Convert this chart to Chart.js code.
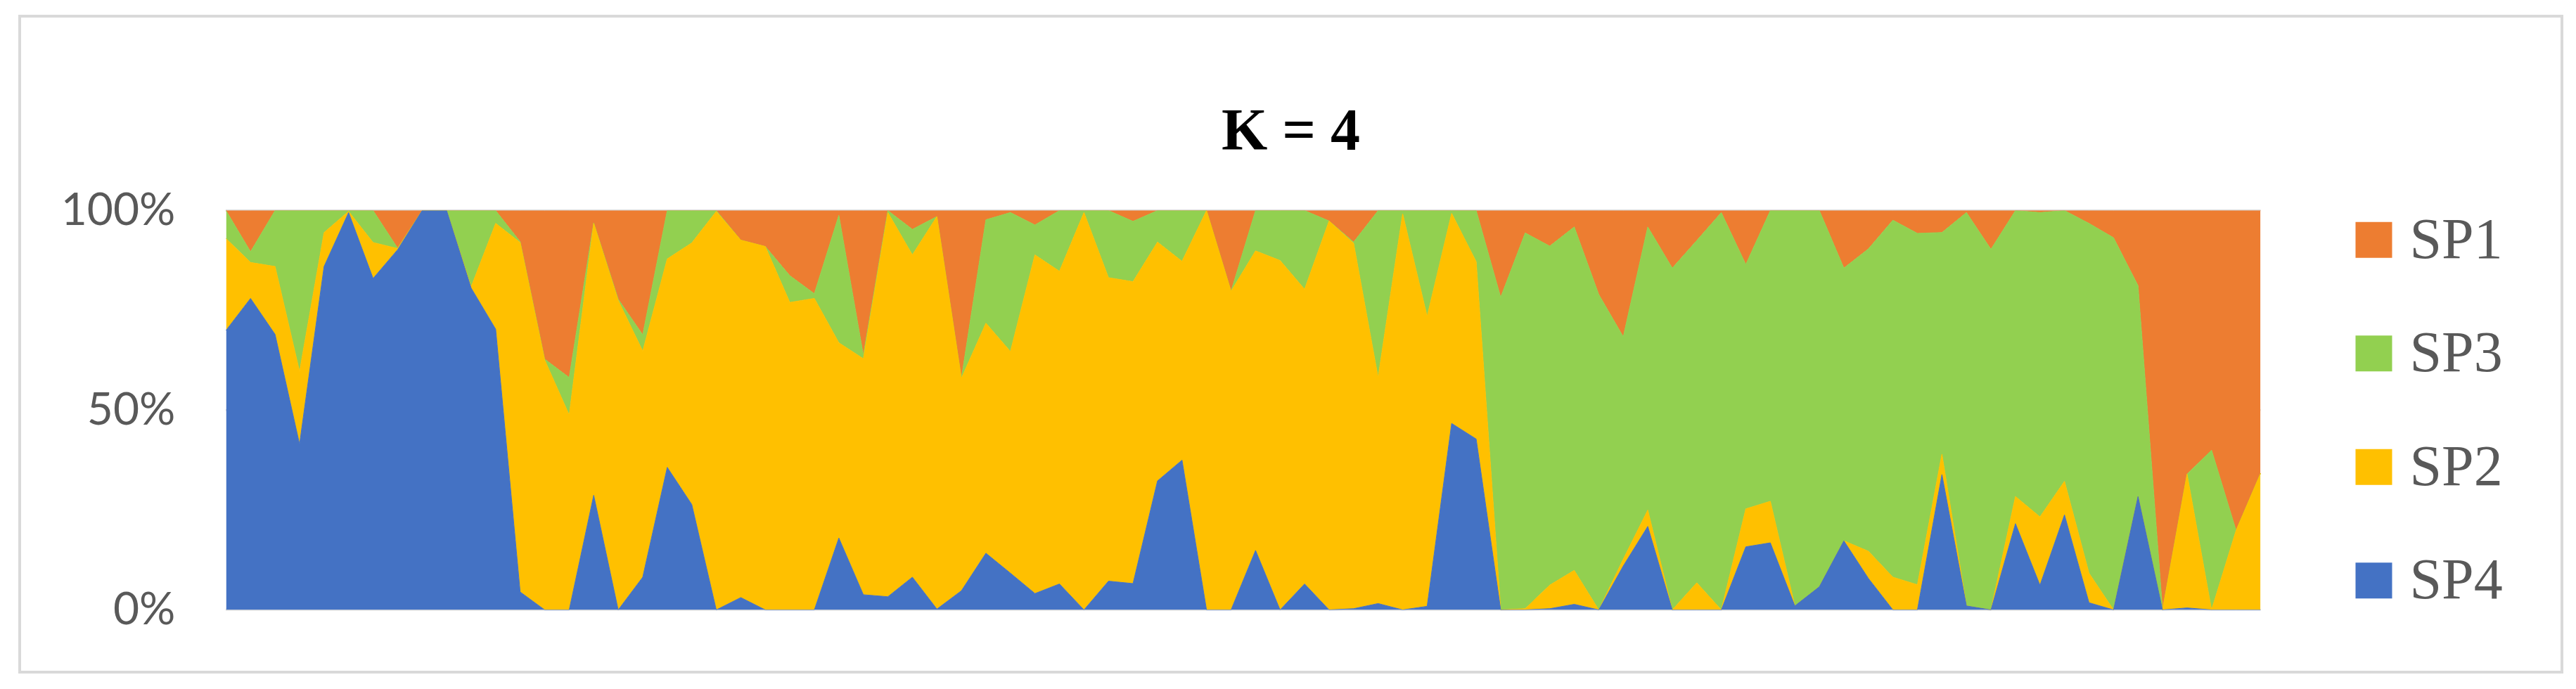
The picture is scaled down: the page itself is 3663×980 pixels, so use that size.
<!DOCTYPE html>
<html>
<head>
<meta charset="utf-8">
<title>K = 4</title>
<script src="https://cdn.jsdelivr.net/npm/chart.js@4.4.1/dist/chart.umd.min.js"></script>
<style>
    html, body { margin: 0; padding: 0; background: #ffffff; }
    #chart-wrap { width: 3663px; height: 980px; }
</style>
</head>
<body>
<div id="chart-wrap"><canvas id="structure-chart" width="3663" height="980"></canvas></div>
<script>
// Individuals along the x axis (their labels are not shown in the original)
const SAMPLES = [
    1, 2, 3, 4, 5, 6, 7, 8, 9, 10, 11, 12, 13, 14, 15, 16, 17, 18, 19, 20, 21,
    22, 23, 24, 25, 26, 27, 28, 29, 30, 31, 32, 33, 34, 35, 36, 37, 38, 39, 40, 41, 42,
    43, 44, 45, 46, 47, 48, 49, 50, 51, 52, 53, 54, 55, 56, 57, 58, 59, 60, 61, 62, 63,
    64, 65, 66, 67, 68, 69, 70, 71, 72, 73, 74, 75, 76, 77, 78, 79, 80, 81, 82, 83, 84
];

const SP4 = [
    70, 78, 69, 41.5, 86, 99.5, 83, 90.2, 100, 100, 80.6, 70.3, 4.5, 0, 0, 28.7, 0, 8.2, 35.7, 26.4, 0,
    3.1, 0, 0, 0, 18, 3.8, 3.3, 8.2, 0.2, 4.8, 14.2, 9.2, 4.1, 6.5, 0, 7.2, 6.6, 32.3, 37.5, 0, 0,
    14.9, 0, 6.5, 0, 0.3, 1.6, 0, 0.9, 46.7, 42.8, 0, 0, 0.3, 1.4, 0, 11, 20.9, 0, 0, 0, 15.8,
    16.8, 1, 5.8, 17.3, 7.9, 0, 0, 33.9, 1, 0, 21.6, 6.2, 23.8, 1.8, 0, 28.4, 0, 0.5, 0, 0, 0
];
const SP2 = [
    23, 9, 17, 18.2, 8.5, 0.3, 9, 0.3, 0, 0, 0.3, 26.5, 87.5, 62.6, 48.8, 68.1, 77.5, 56.6, 52.2, 65.5, 99.8,
    89.5, 91, 77, 78, 48.9, 59.1, 96.2, 80.7, 98.3, 53.2, 57.6, 55.5, 84.8, 78.3, 99.5, 76, 75.6, 59.8, 49.8, 100, 79.8,
    75, 87.5, 73.8, 97.4, 91.5, 56.6, 99.2, 72.6, 52.6, 44.4, 0, 0.3, 5.9, 8.5, 0, 1.7, 4.1, 0, 6.8, 0, 9.5,
    10.4, 0, 0, 0, 6.8, 8.2, 6.3, 5.1, 0, 0, 6.8, 17.1, 8.4, 7.4, 0, 0, 0, 33.5, 0, 19.9, 34.2
];
const SP3 = [
    7, 2.7, 14, 40.3, 5.5, 0.2, 8, 0.1, 0, 0, 19.1, 3.2, 0.2, 0.2, 9.4, 0.1, 0.3, 4.1, 12.1, 8.1, 0.2,
    0, 0, 6.7, 1.2, 31.9, 0.9, 0.5, 6.4, 0, 0, 25.9, 34.8, 7.5, 15.2, 0.5, 16.8, 15.1, 7.9, 12.7, 0, 0,
    10.1, 12.5, 19.7, 0, 0.3, 41.8, 0.8, 26.5, 0.7, 12.8, 78.3, 94.1, 84.9, 86, 79, 55.7, 70.9, 85.6, 85.7, 99.5, 61.2,
    72.8, 99, 94.2, 68.3, 75.7, 89.4, 88, 55.5, 98.5, 90.3, 71.6, 76.2, 67.8, 87.6, 93.2, 52.8, 0, 0, 40, 0, 0
];
const SP1 = [
    0, 10.3, 0, 0, 0, 0, 0, 9.4, 0, 0, 0, 0, 7.8, 37.2, 41.8, 3.1, 22.2, 31.1, 0, 0, 0,
    7.4, 9, 16.3, 20.8, 1.2, 36.2, 0, 4.7, 1.5, 42, 2.3, 0.5, 3.6, 0, 0, 0, 2.7, 0, 0, 0, 20.2,
    0, 0, 0, 2.6, 7.9, 0, 0, 0, 0, 0, 21.7, 5.6, 8.9, 4.1, 21, 31.6, 4.1, 14.4, 7.5, 0.5, 13.5,
    0, 0, 0, 14.4, 9.6, 2.4, 5.7, 5.5, 0.5, 9.7, 0, 0.5, 0, 3.2, 6.8, 18.8, 100, 66, 60, 80.1, 65.8
];

const Y_TICKS = [0, 50, 100];
const CHART_TITLE = 'K = 4';

const SERIES = [
    { label: 'SP4', data: SP4, color: '#4472C4' },
    { label: 'SP2', data: SP2, color: '#FFC000' },
    { label: 'SP3', data: SP3, color: '#92D050' },
    { label: 'SP1', data: SP1, color: '#ED7D31' }
];

// Frame, title and the right-hand legend, laid out like the Excel original
const excelDecor = {
    id: 'excelDecor',
    beforeDraw(chart) {
        const ctx = chart.ctx;
        ctx.save();
        ctx.fillStyle = '#ffffff';
        ctx.fillRect(0, 0, chart.width, chart.height);
        ctx.restore();
    },
    afterDraw(chart) {
        const { ctx, chartArea } = chart;
        ctx.save();

        // outer border
        ctx.strokeStyle = '#d9d9d9';
        ctx.lineWidth = 4;
        ctx.strokeRect(28, 23, chart.width - 48, chart.height - 47);

        // title
        ctx.fillStyle = '#000000';
        ctx.font = 'bold 84px "Liberation Serif"';
        ctx.textAlign = 'center';
        ctx.textBaseline = 'alphabetic';
        ctx.fillText(CHART_TITLE, chart.width / 2 + 4, 213);

        // legend, top to bottom: SP1, SP3, SP2, SP4
        const items = chart.data.datasets.slice().reverse();
        const rowGap = 161.5;
        const midY = (chartArea.top + chartArea.bottom) / 2;
        const firstY = midY - rowGap * (items.length - 1) / 2;
        const boxX = chartArea.right + 135;
        ctx.font = '82px "Liberation Serif"';
        ctx.textAlign = 'left';
        items.forEach((ds, i) => {
            const y = firstY + i * rowGap;
            ctx.fillStyle = ds.backgroundColor;
            ctx.fillRect(boxX, y - 25.5, 52, 51);
            ctx.fillStyle = '#595959';
            ctx.fillText(ds.label, boxX + 77, y + 25.5);
        });

        ctx.restore();
    }
};

function setupChart() {
    const canvas = document.getElementById('structure-chart');
    if (!canvas || typeof Chart === 'undefined') {
        console.error("Chart canvas or Chart.js not available.");
        return;
    }
    const ctx = canvas.getContext('2d');

    const datasets = SERIES.map((s, i) => ({
        label: s.label,
        data: s.data,
        backgroundColor: s.color,
        borderColor: s.color,
        borderWidth: 1,
        pointRadius: 0,
        pointHoverRadius: 0,
        tension: 0,
        fill: i === 0 ? 'origin' : '-1'
    }));

    new Chart(ctx, {
        type: 'line',
        data: { labels: SAMPLES, datasets: datasets },
        options: {
            responsive: false,
            devicePixelRatio: 1,
            animation: false,
            layout: {
                padding: { top: 299.5, right: 448.5, bottom: 112.5, left: 0 }
            },
            scales: {
                x: {
                    display: false,
                    offset: false
                },
                y: {
                    stacked: true,
                    min: 0,
                    max: 100,
                    afterBuildTicks: (scale) => {
                        scale.ticks = Y_TICKS.map(v => ({ value: v }));
                    },
                    afterFit: (scale) => {
                        scale.width = 321.4; // left edge of the plot area
                    },
                    ticks: {
                        padding: 72,
                        color: '#595959',
                        font: { family: 'Lato', size: 64 },
                        callback: (value) => value + '%'
                    },
                    grid: {
                        color: '#d9d9d9',
                        lineWidth: 2.5,
                        drawTicks: false
                    },
                    border: { display: false }
                }
            },
            plugins: {
                legend: { display: false },
                title: { display: false },
                tooltip: { enabled: false }
            }
        },
        plugins: [excelDecor]
    });
}

setupChart();
</script>
</body>
</html>
